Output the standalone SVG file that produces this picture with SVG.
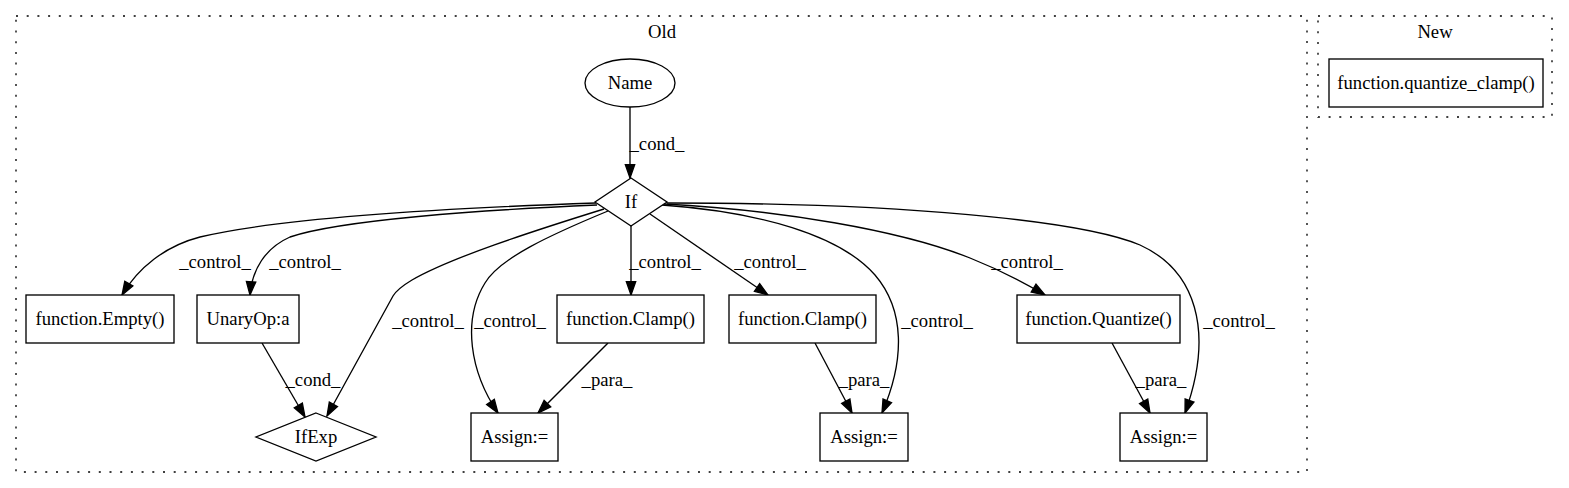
<svg xmlns="http://www.w3.org/2000/svg" width="1569" height="488" viewBox="0 0 1569 488" font-family="'Liberation Serif', 'DejaVu Serif', serif" font-size="18.67">
<style>
text{font-family:'Liberation Serif','DejaVu Serif',serif;font-size:18.67px;fill:#000;text-anchor:middle}
.cl{fill:none;stroke:#000;stroke-width:1.33;stroke-dasharray:2,8.7}
.nd{fill:#fff;stroke:#000;stroke-width:1.33}
.e{fill:none;stroke:#000;stroke-width:1.33;marker-end:url(#ah)}
</style>
<defs>
<marker id="ah" markerUnits="userSpaceOnUse" markerWidth="16" markerHeight="12" refX="13.3" refY="4.67" orient="auto" overflow="visible">
<path d="M0,0 L13.3,4.67 L0,9.33 z" fill="#000" stroke="#000" stroke-width="1.33"/>
</marker>
</defs>
<rect width="1569" height="488" fill="#fff"/>
<g id="cluster_old">
<rect class="cl" x="16" y="16" width="1291" height="456"/>
<text x="662" y="38">Old</text>
</g>
<g id="cluster_new">
<rect class="cl" x="1318" y="16" width="234" height="101"/>
<text x="1435" y="38">New</text>
</g>
<g id="connectors">
<path class="e" d="M596,203 C450,208 280,218 200,237 C165,246 138,268 122,295"/>
<path class="e" d="M597,205 C480,210 340,220 290,237 C265,248 252,270 250,295"/>
<path class="e" d="M604,209 C530,232 450,258 412,280 C402,286 396,291 393,296 L327,416"/>
<path class="e" d="M608,211 C550,235 500,258 485,283 C462,320 470,372 498,413"/>
<path class="e" d="M630,107 L630,178"/>
<path class="e" d="M631,226 L631,295"/>
<path class="e" d="M650,214 L768,295"/>
<path class="e" d="M662,205 C760,212 840,235 875,275 C905,310 905,360 882,413"/>
<path class="e" d="M664,204 C780,210 900,230 970,258 C1000,270 1025,283 1045,295"/>
<path class="e" d="M667,203 C900,203 1080,220 1140,245 C1195,270 1215,330 1185,413"/>
<path class="e" d="M262,343 L305,417"/>
<path class="e" d="M608,343 L538,413"/>
<path class="e" d="M815,343 L852,413"/>
<path class="e" d="M1112,343 L1150,413"/>
<text x="657" y="150">_cond_</text>
<text x="215" y="268">_control_</text>
<text x="305" y="268">_control_</text>
<text x="428" y="327">_control_</text>
<text x="510" y="327">_control_</text>
<text x="665" y="268">_control_</text>
<text x="770" y="268">_control_</text>
<text x="937" y="327">_control_</text>
<text x="1027" y="268">_control_</text>
<text x="1239" y="327">_control_</text>
<text x="313" y="386">_cond_</text>
<text x="607" y="386">_para_</text>
<text x="864" y="386">_para_</text>
<text x="1161" y="386">_para_</text>
</g>
<g id="node_name">
<ellipse class="nd" cx="630" cy="83" rx="45" ry="24"/>
<text x="630" y="89">Name</text>
</g>
<g id="node_if">
<polygon class="nd" points="631,178 667,202 631,226 595,202"/>
<text x="631" y="208">If</text>
</g>
<g id="node_empty">
<rect class="nd" x="26" y="295" width="148" height="48"/>
<text x="100" y="325">function.Empty()</text>
</g>
<g id="node_unaryop">
<rect class="nd" x="197" y="295" width="102" height="48"/>
<text x="248" y="325">UnaryOp:a</text>
</g>
<g id="node_ifexp">
<polygon class="nd" points="316,413 376,437 316,461 256,437"/>
<text x="316" y="443">IfExp</text>
</g>
<g id="node_clamp1">
<rect class="nd" x="557" y="295" width="147" height="48"/>
<text x="630.5" y="325">function.Clamp()</text>
</g>
<g id="node_clamp2">
<rect class="nd" x="729" y="295" width="147" height="48"/>
<text x="802.5" y="325">function.Clamp()</text>
</g>
<g id="node_quantize">
<rect class="nd" x="1017" y="295" width="163" height="48"/>
<text x="1098.5" y="325">function.Quantize()</text>
</g>
<g id="node_assign1">
<rect class="nd" x="471" y="413" width="87" height="48"/>
<text x="514.5" y="443">Assign:=</text>
</g>
<g id="node_assign2">
<rect class="nd" x="820" y="413" width="88" height="48"/>
<text x="864" y="443">Assign:=</text>
</g>
<g id="node_assign3">
<rect class="nd" x="1120" y="413" width="87" height="48"/>
<text x="1163.5" y="443">Assign:=</text>
</g>
<g id="node_quantize_clamp">
<rect class="nd" x="1329" y="59" width="214" height="48"/>
<text x="1436" y="89">function.quantize_clamp()</text>
</g>
</svg>
